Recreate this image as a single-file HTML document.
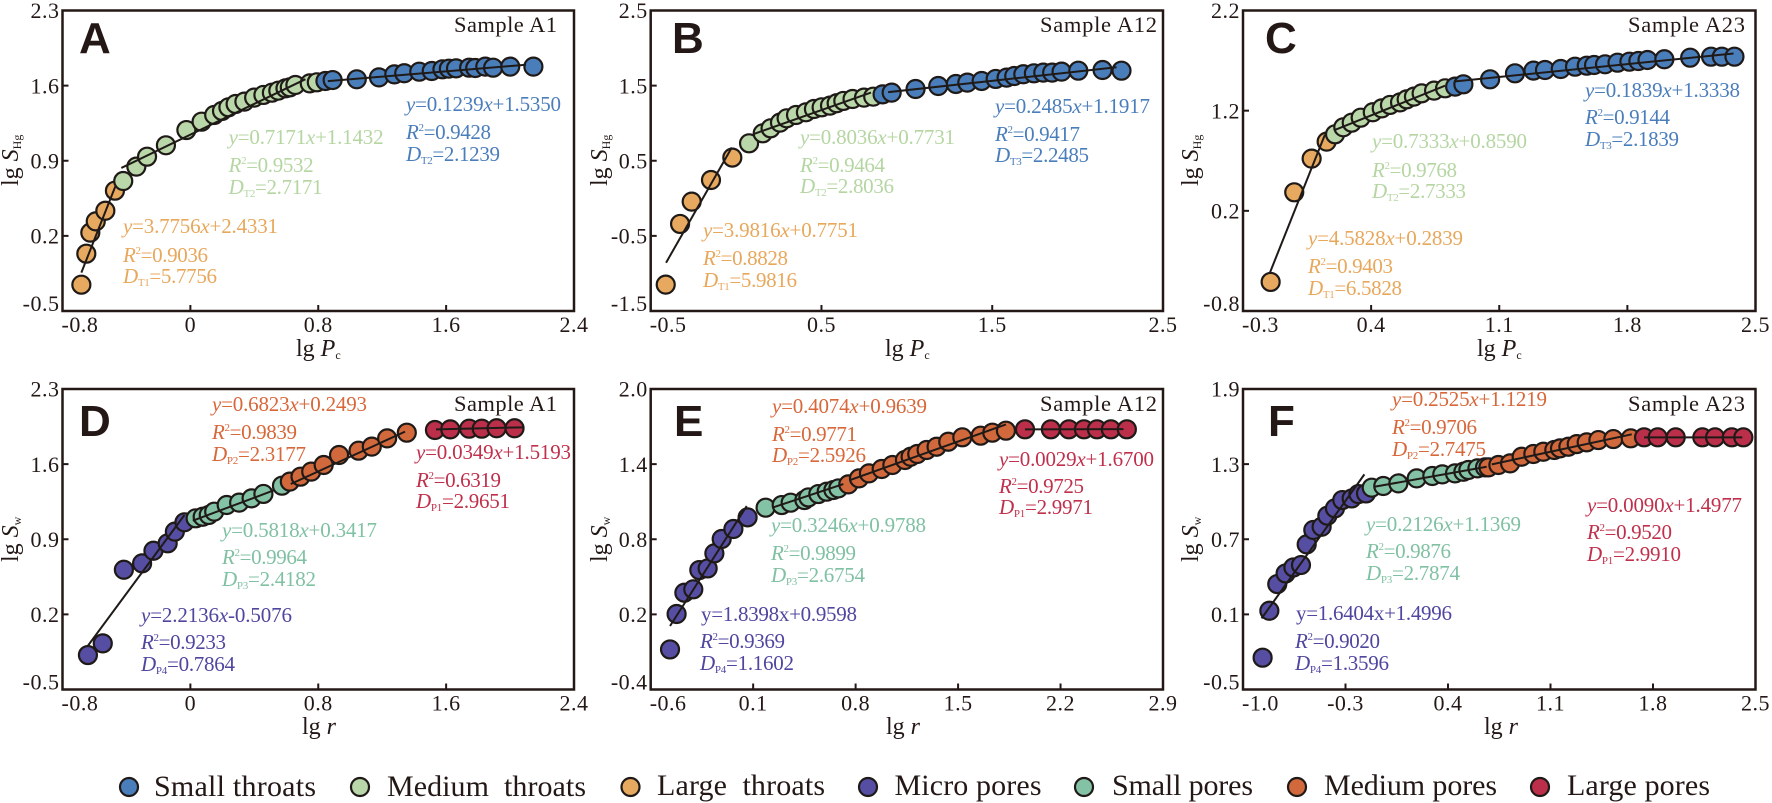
<!DOCTYPE html>
<html lang="en">
<head>
<meta charset="utf-8">
<title>Fractal dimension plots of throats and pores</title>
<style>
html,body{margin:0;padding:0;background:#fff;width:1772px;height:803px;overflow:hidden}
svg{display:block;font-family:"Liberation Serif","Times New Roman",serif}
.tick{font-size:22px;letter-spacing:.5px;fill:#231815}
.sample{font-size:22.5px;fill:#231815}
.letter{font-family:"Liberation Sans",Arial,sans-serif;font-weight:700;font-size:44px;fill:#231815}
.axis{font-size:24px;fill:#231815;white-space:pre}
.ax-sub{font-size:12px}
.ann{font-size:21px}
.i{font-style:italic}
.sm{font-size:11px}
.legend{font-size:30px;fill:#231815;white-space:pre}
.blue{fill:#4a7ebb}.green{fill:#b5d6a2}.orange{fill:#e8a85c}
.purple{fill:#4f46a0}.teal{fill:#80c1a3}.ored{fill:#d8673a}.red{fill:#c0304c}
</style>
</head>
<body>
<svg id="figure" width="1772" height="803" viewBox="0 0 1772 803" xmlns="http://www.w3.org/2000/svg">
  <g id="marks"></g>

  <!-- Panel letters and sample names -->
  <text class="letter" x="79" y="53">A</text>
  <text class="letter" x="672" y="53">B</text>
  <text class="letter" x="1265" y="53">C</text>
  <text class="letter" x="79" y="436">D</text>
  <text class="letter" x="674" y="436">E</text>
  <text class="letter" x="1268" y="436">F</text>
  <text class="sample" x="454" y="32" textLength="103">Sample A1</text>
  <text class="sample" x="1040" y="32" textLength="117">Sample A12</text>
  <text class="sample" x="1628" y="32" textLength="117">Sample A23</text>
  <text class="sample" x="454" y="411" textLength="103">Sample A1</text>
  <text class="sample" x="1040" y="411" textLength="117">Sample A12</text>
  <text class="sample" x="1628" y="411" textLength="117">Sample A23</text>

  <!-- Axis titles -->
  <text class="axis" x="296" y="356">lg <tspan class="i">P</tspan><tspan class="ax-sub" dy="3">c</tspan></text>
  <text class="axis" x="885" y="356">lg <tspan class="i">P</tspan><tspan class="ax-sub" dy="3">c</tspan></text>
  <text class="axis" x="1477" y="356">lg <tspan class="i">P</tspan><tspan class="ax-sub" dy="3">c</tspan></text>
  <text class="axis" x="302" y="734">lg <tspan class="i">r</tspan></text>
  <text class="axis" x="886" y="734">lg <tspan class="i">r</tspan></text>
  <text class="axis" x="1484" y="734">lg <tspan class="i">r</tspan></text>
  <text class="axis" transform="rotate(-90 18 186)" x="18" y="186">lg <tspan class="i">S</tspan><tspan class="ax-sub" dy="3">Hg</tspan></text>
  <text class="axis" transform="rotate(-90 607 186)" x="607" y="186">lg <tspan class="i">S</tspan><tspan class="ax-sub" dy="3">Hg</tspan></text>
  <text class="axis" transform="rotate(-90 1198 186)" x="1198" y="186">lg <tspan class="i">S</tspan><tspan class="ax-sub" dy="3">Hg</tspan></text>
  <text class="axis" transform="rotate(-90 18 562)" x="18" y="562">lg <tspan class="i">S</tspan><tspan class="ax-sub" dy="3">w</tspan></text>
  <text class="axis" transform="rotate(-90 607 562)" x="607" y="562">lg <tspan class="i">S</tspan><tspan class="ax-sub" dy="3">w</tspan></text>
  <text class="axis" transform="rotate(-90 1198 562)" x="1198" y="562">lg <tspan class="i">S</tspan><tspan class="ax-sub" dy="3">w</tspan></text>

  <!-- Panel A annotations -->
  <text class="ann blue" x="406" y="111" textLength="155"><tspan class="i">y</tspan>=0.1239<tspan class="i">x</tspan>+1.5350</text>
  <text class="ann blue" x="406" y="139" textLength="85"><tspan class="i">R</tspan><tspan class="sm" dy="-8">2</tspan><tspan dy="8">=0.9428</tspan></text>
  <text class="ann blue" x="406" y="161" textLength="94"><tspan class="i">D</tspan><tspan class="sm" dy="3">T2</tspan><tspan dy="-3">=2.1239</tspan></text>
  <text class="ann green" x="228.6" y="144" textLength="155"><tspan class="i">y</tspan>=0.7171<tspan class="i">x</tspan>+1.1432</text>
  <text class="ann green" x="228.6" y="172" textLength="85"><tspan class="i">R</tspan><tspan class="sm" dy="-8">2</tspan><tspan dy="8">=0.9532</tspan></text>
  <text class="ann green" x="228.6" y="194" textLength="94"><tspan class="i">D</tspan><tspan class="sm" dy="3">T2</tspan><tspan dy="-3">=2.7171</tspan></text>
  <text class="ann orange" x="123" y="233" textLength="155"><tspan class="i">y</tspan>=3.7756<tspan class="i">x</tspan>+2.4331</text>
  <text class="ann orange" x="123" y="262" textLength="85"><tspan class="i">R</tspan><tspan class="sm" dy="-8">2</tspan><tspan dy="8">=0.9036</tspan></text>
  <text class="ann orange" x="123" y="283" textLength="94"><tspan class="i">D</tspan><tspan class="sm" dy="3">T1</tspan><tspan dy="-3">=5.7756</tspan></text>

  <!-- Panel B annotations -->
  <text class="ann blue" x="995" y="113" textLength="155"><tspan class="i">y</tspan>=0.2485<tspan class="i">x</tspan>+1.1917</text>
  <text class="ann blue" x="995" y="141" textLength="85"><tspan class="i">R</tspan><tspan class="sm" dy="-8">2</tspan><tspan dy="8">=0.9417</tspan></text>
  <text class="ann blue" x="995" y="162" textLength="94"><tspan class="i">D</tspan><tspan class="sm" dy="3">T3</tspan><tspan dy="-3">=2.2485</tspan></text>
  <text class="ann green" x="800" y="144" textLength="155"><tspan class="i">y</tspan>=0.8036<tspan class="i">x</tspan>+0.7731</text>
  <text class="ann green" x="800" y="172" textLength="85"><tspan class="i">R</tspan><tspan class="sm" dy="-8">2</tspan><tspan dy="8">=0.9464</tspan></text>
  <text class="ann green" x="800" y="193" textLength="94"><tspan class="i">D</tspan><tspan class="sm" dy="3">T2</tspan><tspan dy="-3">=2.8036</tspan></text>
  <text class="ann orange" x="703" y="237" textLength="155"><tspan class="i">y</tspan>=3.9816<tspan class="i">x</tspan>+0.7751</text>
  <text class="ann orange" x="703" y="265" textLength="85"><tspan class="i">R</tspan><tspan class="sm" dy="-8">2</tspan><tspan dy="8">=0.8828</tspan></text>
  <text class="ann orange" x="703" y="287" textLength="94"><tspan class="i">D</tspan><tspan class="sm" dy="3">T1</tspan><tspan dy="-3">=5.9816</tspan></text>

  <!-- Panel C annotations -->
  <text class="ann blue" x="1585" y="97" textLength="155"><tspan class="i">y</tspan>=0.1839<tspan class="i">x</tspan>+1.3338</text>
  <text class="ann blue" x="1585" y="124" textLength="85"><tspan class="i">R</tspan><tspan class="sm" dy="-8">2</tspan><tspan dy="8">=0.9144</tspan></text>
  <text class="ann blue" x="1585" y="146" textLength="94"><tspan class="i">D</tspan><tspan class="sm" dy="3">T3</tspan><tspan dy="-3">=2.1839</tspan></text>
  <text class="ann green" x="1372" y="148" textLength="155"><tspan class="i">y</tspan>=0.7333<tspan class="i">x</tspan>+0.8590</text>
  <text class="ann green" x="1372" y="177" textLength="85"><tspan class="i">R</tspan><tspan class="sm" dy="-8">2</tspan><tspan dy="8">=0.9768</tspan></text>
  <text class="ann green" x="1372" y="198" textLength="94"><tspan class="i">D</tspan><tspan class="sm" dy="3">T2</tspan><tspan dy="-3">=2.7333</tspan></text>
  <text class="ann orange" x="1308" y="245" textLength="155"><tspan class="i">y</tspan>=4.5828<tspan class="i">x</tspan>+0.2839</text>
  <text class="ann orange" x="1308" y="273" textLength="85"><tspan class="i">R</tspan><tspan class="sm" dy="-8">2</tspan><tspan dy="8">=0.9403</tspan></text>
  <text class="ann orange" x="1308" y="295" textLength="94"><tspan class="i">D</tspan><tspan class="sm" dy="3">T1</tspan><tspan dy="-3">=6.5828</tspan></text>

  <!-- Panel D annotations -->
  <text class="ann ored" x="212" y="411" textLength="155"><tspan class="i">y</tspan>=0.6823<tspan class="i">x</tspan>+0.2493</text>
  <text class="ann ored" x="212" y="439" textLength="85"><tspan class="i">R</tspan><tspan class="sm" dy="-8">2</tspan><tspan dy="8">=0.9839</tspan></text>
  <text class="ann ored" x="212" y="461" textLength="94"><tspan class="i">D</tspan><tspan class="sm" dy="3">P2</tspan><tspan dy="-3">=2.3177</tspan></text>
  <text class="ann teal" x="222" y="537" textLength="155"><tspan class="i">y</tspan>=0.5818<tspan class="i">x</tspan>+0.3417</text>
  <text class="ann teal" x="222" y="564" textLength="85"><tspan class="i">R</tspan><tspan class="sm" dy="-8">2</tspan><tspan dy="8">=0.9964</tspan></text>
  <text class="ann teal" x="222" y="586" textLength="94"><tspan class="i">D</tspan><tspan class="sm" dy="3">P3</tspan><tspan dy="-3">=2.4182</tspan></text>
  <text class="ann red" x="416" y="459" textLength="155"><tspan class="i">y</tspan>=0.0349<tspan class="i">x</tspan>+1.5193</text>
  <text class="ann red" x="416" y="487" textLength="85"><tspan class="i">R</tspan><tspan class="sm" dy="-8">2</tspan><tspan dy="8">=0.6319</tspan></text>
  <text class="ann red" x="416" y="508" textLength="94"><tspan class="i">D</tspan><tspan class="sm" dy="3">P1</tspan><tspan dy="-3">=2.9651</tspan></text>
  <text class="ann purple" x="141" y="622" textLength="151"><tspan class="i">y</tspan>=2.2136<tspan class="i">x</tspan>-0.5076</text>
  <text class="ann purple" x="141" y="649" textLength="85"><tspan class="i">R</tspan><tspan class="sm" dy="-8">2</tspan><tspan dy="8">=0.9233</tspan></text>
  <text class="ann purple" x="141" y="671" textLength="94"><tspan class="i">D</tspan><tspan class="sm" dy="3">P4</tspan><tspan dy="-3">=0.7864</tspan></text>

  <!-- Panel E annotations -->
  <text class="ann ored" x="772" y="413" textLength="155"><tspan class="i">y</tspan>=0.4074<tspan class="i">x</tspan>+0.9639</text>
  <text class="ann ored" x="772" y="441" textLength="85"><tspan class="i">R</tspan><tspan class="sm" dy="-8">2</tspan><tspan dy="8">=0.9771</tspan></text>
  <text class="ann ored" x="772" y="462" textLength="94"><tspan class="i">D</tspan><tspan class="sm" dy="3">P2</tspan><tspan dy="-3">=2.5926</tspan></text>
  <text class="ann teal" x="771" y="532" textLength="155"><tspan class="i">y</tspan>=0.3246<tspan class="i">x</tspan>+0.9788</text>
  <text class="ann teal" x="771" y="560" textLength="85"><tspan class="i">R</tspan><tspan class="sm" dy="-8">2</tspan><tspan dy="8">=0.9899</tspan></text>
  <text class="ann teal" x="771" y="582" textLength="94"><tspan class="i">D</tspan><tspan class="sm" dy="3">P3</tspan><tspan dy="-3">=2.6754</tspan></text>
  <text class="ann red" x="999" y="466" textLength="155"><tspan class="i">y</tspan>=0.0029<tspan class="i">x</tspan>+1.6700</text>
  <text class="ann red" x="999" y="493" textLength="85"><tspan class="i">R</tspan><tspan class="sm" dy="-8">2</tspan><tspan dy="8">=0.9725</tspan></text>
  <text class="ann red" x="999" y="514" textLength="94"><tspan class="i">D</tspan><tspan class="sm" dy="3">P1</tspan><tspan dy="-3">=2.9971</tspan></text>
  <text class="ann purple" x="701" y="621" textLength="156">y=1.8398x+0.9598</text>
  <text class="ann purple" x="700" y="648" textLength="85"><tspan class="i">R</tspan><tspan class="sm" dy="-8">2</tspan><tspan dy="8">=0.9369</tspan></text>
  <text class="ann purple" x="700" y="670" textLength="94"><tspan class="i">D</tspan><tspan class="sm" dy="3">P4</tspan><tspan dy="-3">=1.1602</tspan></text>

  <!-- Panel F annotations -->
  <text class="ann ored" x="1392" y="406" textLength="155"><tspan class="i">y</tspan>=0.2525<tspan class="i">x</tspan>+1.1219</text>
  <text class="ann ored" x="1392" y="434" textLength="85"><tspan class="i">R</tspan><tspan class="sm" dy="-8">2</tspan><tspan dy="8">=0.9706</tspan></text>
  <text class="ann ored" x="1392" y="456" textLength="94"><tspan class="i">D</tspan><tspan class="sm" dy="3">P2</tspan><tspan dy="-3">=2.7475</tspan></text>
  <text class="ann teal" x="1366" y="531" textLength="155"><tspan class="i">y</tspan>=0.2126<tspan class="i">x</tspan>+1.1369</text>
  <text class="ann teal" x="1366" y="558" textLength="85"><tspan class="i">R</tspan><tspan class="sm" dy="-8">2</tspan><tspan dy="8">=0.9876</tspan></text>
  <text class="ann teal" x="1366" y="580" textLength="94"><tspan class="i">D</tspan><tspan class="sm" dy="3">P3</tspan><tspan dy="-3">=2.7874</tspan></text>
  <text class="ann red" x="1587" y="512" textLength="155"><tspan class="i">y</tspan>=0.0090<tspan class="i">x</tspan>+1.4977</text>
  <text class="ann red" x="1587" y="539" textLength="85"><tspan class="i">R</tspan><tspan class="sm" dy="-8">2</tspan><tspan dy="8">=0.9520</tspan></text>
  <text class="ann red" x="1587" y="561" textLength="94"><tspan class="i">D</tspan><tspan class="sm" dy="3">P1</tspan><tspan dy="-3">=2.9910</tspan></text>
  <text class="ann purple" x="1296" y="620" textLength="156">y=1.6404x+1.4996</text>
  <text class="ann purple" x="1295" y="648" textLength="85"><tspan class="i">R</tspan><tspan class="sm" dy="-8">2</tspan><tspan dy="8">=0.9020</tspan></text>
  <text class="ann purple" x="1295" y="670" textLength="94"><tspan class="i">D</tspan><tspan class="sm" dy="3">P4</tspan><tspan dy="-3">=1.3596</tspan></text>

  <!-- Legend -->
  <g stroke-width="0">
    <g>
      <circle cx="129" cy="787" r="9" fill="#4a7ebb" stroke="#1f1a17" stroke-width="2.2"/>
      <text class="legend" x="154" y="796" textLength="162">Small throats</text>
    </g>
    <g>
      <circle cx="360" cy="787" r="9" fill="#b9d7a8" stroke="#1f1a17" stroke-width="2.2"/>
      <text class="legend" x="387" y="796" textLength="199">Medium  throats</text>
    </g>
    <g>
      <circle cx="630.5" cy="787" r="9" fill="#e6a95f" stroke="#1f1a17" stroke-width="2.2"/>
      <text class="legend" x="657" y="795" textLength="168">Large  throats</text>
    </g>
    <g>
      <circle cx="868" cy="787" r="9" fill="#564ea2" stroke="#1f1a17" stroke-width="2.2"/>
      <text class="legend" x="894.5" y="795" textLength="147">Micro pores</text>
    </g>
    <g>
      <circle cx="1084" cy="787" r="9" fill="#84c2a5" stroke="#1f1a17" stroke-width="2.2"/>
      <text class="legend" x="1112" y="795" textLength="141">Small pores</text>
    </g>
    <g>
      <circle cx="1297" cy="787" r="9" fill="#d2693c" stroke="#1f1a17" stroke-width="2.2"/>
      <text class="legend" x="1324" y="795" textLength="173">Medium pores</text>
    </g>
    <g>
      <circle cx="1540" cy="787" r="9" fill="#bc2f4a" stroke="#1f1a17" stroke-width="2.2"/>
      <text class="legend" x="1567" y="795" textLength="143">Large pores</text>
    </g>
  </g>
</svg>

<script>
/* ---------- Tick labels ---------- */
const aXTicks = ['-0.8','0','0.8','1.6','2.4'];
const aYTicks = ['-0.5','0.2','0.9','1.6','2.3'];
const bXTicks = ['-0.5','0.5','1.5','2.5'];
const bYTicks = ['-1.5','-0.5','0.5','1.5','2.5'];
const cXTicks = ['-0.3','0.4','1.1','1.8','2.5'];
const cYTicks = ['-0.8','0.2','1.2','2.2'];
const dXTicks = ['-0.8','0','0.8','1.6','2.4'];
const dYTicks = ['-0.5','0.2','0.9','1.6','2.3'];
const eXTicks = ['-0.6','0.1','0.8','1.5','2.2','2.9'];
const eYTicks = ['-0.4','0.2','0.8','1.4','2.0'];
const fXTicks = ['-1.0','-0.3','0.4','1.1','1.8','2.5'];
const fYTicks = ['-0.5','0.1','0.7','1.3','1.9'];

/* ---------- Panel A: lg Pc vs lg SHg ---------- */
const aLargeThroatX = [-0.682,-0.651,-0.626,-0.592,-0.532,-0.472];
const aLargeThroatY = [-0.255,0.034,0.23,0.335,0.434,0.621];
const aLargeThroatFit = [-0.682,-0.142,-0.47,0.659];
const aMediumThroatX = [-0.42,-0.338,-0.271,-0.153,-0.025,0.07,0.149,0.198,0.238,0.283,0.338,0.399,0.457,0.51,0.55,0.595,0.622,0.657,0.747,0.791];
const aMediumThroatY = [0.711,0.845,0.938,1.044,1.186,1.264,1.326,1.364,1.398,1.429,1.451,1.488,1.513,1.534,1.553,1.575,1.584,1.606,1.621,1.631];
const aMediumThroatFit = [-0.432,0.833,0.72,1.66];
const aSmallThroatX = [0.845,0.89,1.041,1.18,1.276,1.338,1.432,1.51,1.577,1.617,1.662,1.744,1.782,1.845,1.894,2.001,2.146];
const aSmallThroatY = [1.643,1.652,1.659,1.677,1.705,1.715,1.73,1.736,1.752,1.758,1.761,1.767,1.764,1.777,1.767,1.777,1.777];
const aSmallThroatFit = [0.86,1.642,2.1,1.795];

/* ---------- Panel B ---------- */
const bLargeThroatX = [-0.412,-0.328,-0.26,-0.147,-0.022];
const bLargeThroatY = [-1.149,-0.341,-0.044,0.244,0.542];
const bLargeThroatFit = [-0.41,-0.857,-0.025,0.676];
const bMediumThroatX = [0.076,0.156,0.202,0.257,0.296,0.351,0.409,0.456,0.501,0.55,0.589,0.628,0.682,0.749,0.803];
const bMediumThroatY = [0.732,0.865,0.932,1.007,1.065,1.109,1.145,1.189,1.211,1.234,1.265,1.296,1.322,1.34,1.353];
const bMediumThroatFit = [0.101,0.854,0.79,1.408];
const bSmallThroatX = [0.858,0.911,1.051,1.184,1.287,1.354,1.438,1.52,1.584,1.629,1.682,1.744,1.799,1.851,1.906,2.004,2.146,2.257];
const bSmallThroatY = [1.384,1.407,1.455,1.495,1.522,1.54,1.562,1.589,1.606,1.628,1.651,1.664,1.673,1.673,1.686,1.699,1.708,1.699];
const bSmallThroatFit = [0.89,1.413,2.228,1.745];

/* ---------- Panel C ---------- */
const cLargeThroatX = [-0.149,-0.02,0.075,0.157];
const cLargeThroatY = [-0.51,0.385,0.721,0.891];
const cLargeThroatFit = [-0.152,-0.413,0.148,0.962];
const cMediumThroatX = [0.203,0.248,0.294,0.343,0.409,0.458,0.503,0.558,0.594,0.634,0.676,0.744,0.804];
const cMediumThroatY = [0.964,1.034,1.08,1.13,1.184,1.223,1.257,1.283,1.313,1.34,1.373,1.4,1.423];
const cMediumThroatFit = [0.2,1.006,0.804,1.449];
const cSmallThroatX = [0.859,0.904,1.05,1.186,1.287,1.35,1.436,1.514,1.578,1.618,1.678,1.746,1.811,1.86,1.91,2.002,2.143,2.257,2.316,2.385];
const cSmallThroatY = [1.44,1.463,1.513,1.573,1.6,1.606,1.616,1.639,1.649,1.656,1.663,1.679,1.689,1.696,1.706,1.713,1.729,1.739,1.739,1.739];
const cSmallThroatFit = [0.86,1.492,2.38,1.771];

/* ---------- Panel D: lg r vs lg Sw ---------- */
const dMicroPoreX = [-0.641,-0.548,-0.416,-0.302,-0.231,-0.142,-0.097,-0.037];
const dMicroPoreY = [-0.179,-0.07,0.616,0.675,0.793,0.862,0.971,1.058];
const dMicroPoreFit = [-0.64,-0.09,-0.037,1.126];
const dSmallPoreX = [0.033,0.077,0.115,0.149,0.227,0.305,0.383,0.457,0.573];
const dSmallPoreY = [1.095,1.11,1.126,1.157,1.219,1.241,1.281,1.322,1.399];
const dSmallPoreFit = [0.015,1.073,0.528,1.359];
const dMediumPoreX = [0.622,0.689,0.756,0.834,0.93,1.052,1.135,1.231,1.354];
const dMediumPoreY = [1.437,1.483,1.53,1.592,1.685,1.725,1.763,1.84,1.893];
const dMediumPoreFit = [0.628,1.415,1.343,1.903];
const dLargePoreX = [1.53,1.626,1.744,1.823,1.916,2.028];
const dLargePoreY = [1.918,1.924,1.93,1.93,1.934,1.934];
const dLargePoreFit = [1.537,1.924,2.086,1.943];

/* ---------- Panel E ---------- */
const eMicroPoreX = [-0.468,-0.423,-0.37,-0.309,-0.268,-0.211,-0.165,-0.115,-0.035,0.062];
const eMicroPoreY = [-0.08,0.203,0.373,0.4,0.554,0.567,0.687,0.802,0.882,0.975];
const eMicroPoreFit = [-0.468,0.107,0.056,1.065];
const eSmallPoreX = [0.185,0.295,0.356,0.45,0.477,0.545,0.602,0.648,0.682];
const eSmallPoreY = [1.052,1.073,1.092,1.113,1.134,1.161,1.18,1.193,1.206];
const eSmallPoreFit = [0.238,1.055,0.716,1.241];
const eMediumPoreX = [0.75,0.823,0.891,0.978,1.051,1.137,1.176,1.221,1.285,1.353,1.433,1.529,1.654,1.734,1.827];
const eMediumPoreY = [1.238,1.286,1.326,1.361,1.393,1.433,1.459,1.481,1.513,1.539,1.579,1.614,1.627,1.651,1.667];
const eMediumPoreFit = [0.762,1.273,1.827,1.717];
const eLargePoreX = [1.957,2.134,2.257,2.36,2.449,2.544,2.653];
const eLargePoreY = [1.678,1.678,1.678,1.678,1.678,1.678,1.678];
const eLargePoreFit = [1.957,1.678,2.63,1.68];

/* ---------- Panel F ---------- */
const fMicroPoreX = [-0.866,-0.82,-0.766,-0.709,-0.656,-0.604,-0.565,-0.52,-0.463,-0.424,-0.372,-0.322,-0.258,-0.212,-0.16];
const fMicroPoreY = [-0.246,0.129,0.342,0.427,0.475,0.494,0.659,0.774,0.8,0.888,0.947,1.013,1.026,1.061,1.066];
const fMicroPoreFit = [-0.873,0.068,-0.171,1.218];
const fSmallPoreX = [-0.121,-0.042,0.061,0.186,0.293,0.361,0.448,0.505,0.539,0.601,0.653];
const fSmallPoreY = [1.112,1.125,1.146,1.186,1.205,1.218,1.226,1.239,1.253,1.266,1.274];
const fSmallPoreFit = [-0.098,1.12,0.664,1.279];
const fMediumPoreX = [0.676,0.744,0.824,0.903,0.983,1.051,1.126,1.165,1.222,1.279,1.347,1.427,1.529,1.648];
const fMediumPoreY = [1.274,1.293,1.306,1.359,1.381,1.399,1.413,1.426,1.439,1.46,1.474,1.492,1.5,1.506];
const fMediumPoreFit = [0.699,1.298,1.655,1.538];
const fLargePoreX = [1.739,1.832,1.955,2.137,2.224,2.338,2.417];
const fLargePoreY = [1.514,1.514,1.514,1.514,1.514,1.514,1.514];
const fLargePoreFit = [1.739,1.514,2.41,1.514];

/* ---------- Drawing ---------- */
const SVG_NS = 'http://www.w3.org/2000/svg';
const INK = '#231815';
const marksRoot = document.getElementById('marks');

function makeEl(tag, attrs, parent) {
  const el = document.createElementNS(SVG_NS, tag);
  for (const key in attrs) el.setAttribute(key, attrs[key]);
  parent.appendChild(el);
  return el;
}

function drawPanel(id, box, xTicks, yTicks, series) {
  const xVals = xTicks.map(parseFloat);
  const yVals = yTicks.map(parseFloat);
  const x0 = xVals[0], x1 = xVals[xVals.length - 1];
  const y0 = yVals[0], y1 = yVals[yVals.length - 1];
  const xScale = v => box.left + (v - x0) / (x1 - x0) * (box.right - box.left);
  const yScale = v => box.bottom - (v - y0) / (y1 - y0) * (box.bottom - box.top);

  const group = makeEl('g', {}, marksRoot);
  
  

  const frame = makeEl('rect', {
    x: box.left, y: box.top, width: box.right - box.left, height: box.bottom - box.top,
    fill: 'none', stroke: INK, 'stroke-width': 2.5
  }, group);
  
  

  xVals.forEach((v, i) => {
    const px = xScale(v);
    if (i > 0 && i < xVals.length - 1) {
      const tick = makeEl('line', {
        x1: px, x2: px, y1: box.bottom, y2: box.bottom - 6, stroke: INK, 'stroke-width': 2
      }, group);
      
      
    }
    const label = makeEl('text', {
      class: 'tick',
      x: i === 0 ? box.left - 1 : px,
      y: box.bottom + 21,
      'text-anchor': i === 0 ? 'start' : 'middle'
    }, group);
    label.textContent = xTicks[i];
    
    
  });

  yVals.forEach((v, i) => {
    const py = yScale(v);
    const last = yVals.length - 1;
    if (i > 0 && i < last) {
      const tick = makeEl('line', {
        x1: box.left, x2: box.left + 6, y1: py, y2: py, stroke: INK, 'stroke-width': 2
      }, group);
      
      
    }
    const label = makeEl('text', {
      class: 'tick',
      x: box.left - 3,
      y: i === 0 ? box.bottom : (i === last ? box.top + 7.5 : py + 7.7),
      'text-anchor': 'end'
    }, group);
    label.textContent = yTicks[i];
    
    
  });

  series.forEach(s => {
    s.x.forEach((v, i) => {
      const dot = makeEl('circle', {
        cx: xScale(v), cy: yScale(s.y[i]), r: 9,
        fill: s.color, stroke: '#1f1a17', 'stroke-width': 2.2
      }, group);
      
      
    });
  });

  series.forEach(s => {
    const fit = makeEl('line', {
      x1: xScale(s.fit[0]), y1: yScale(s.fit[1]),
      x2: xScale(s.fit[2]), y2: yScale(s.fit[3]),
      stroke: '#1f1a17', 'stroke-width': 2
    }, group);
    
    
  });
}

const BLUE = '#4a7ebb', GREEN = '#b9d7a8', ORANGE = '#e6a95f';
const PURPLE = '#564ea2', TEAL = '#84c2a5', ORED = '#d2693c', RED = '#bc2f4a';

drawPanel('a', {left:62.5, right:574, top:10.5, bottom:311}, aXTicks, aYTicks, [
  {name:'large-throats', color:ORANGE, x:aLargeThroatX, y:aLargeThroatY, fit:aLargeThroatFit},
  {name:'medium-throats', color:GREEN, x:aMediumThroatX, y:aMediumThroatY, fit:aMediumThroatFit},
  {name:'small-throats', color:BLUE, x:aSmallThroatX, y:aSmallThroatY, fit:aSmallThroatFit}
]);
drawPanel('b', {left:650.7, right:1163, top:10.5, bottom:311}, bXTicks, bYTicks, [
  {name:'large-throats', color:ORANGE, x:bLargeThroatX, y:bLargeThroatY, fit:bLargeThroatFit},
  {name:'medium-throats', color:GREEN, x:bMediumThroatX, y:bMediumThroatY, fit:bMediumThroatFit},
  {name:'small-throats', color:BLUE, x:bSmallThroatX, y:bSmallThroatY, fit:bSmallThroatFit}
]);
drawPanel('c', {left:1243, right:1755.5, top:10.5, bottom:311}, cXTicks, cYTicks, [
  {name:'large-throats', color:ORANGE, x:cLargeThroatX, y:cLargeThroatY, fit:cLargeThroatFit},
  {name:'medium-throats', color:GREEN, x:cMediumThroatX, y:cMediumThroatY, fit:cMediumThroatFit},
  {name:'small-throats', color:BLUE, x:cSmallThroatX, y:cSmallThroatY, fit:cSmallThroatFit}
]);
drawPanel('d', {left:62.5, right:574, top:389, bottom:689.5}, dXTicks, dYTicks, [
  {name:'micro-pores', color:PURPLE, x:dMicroPoreX, y:dMicroPoreY, fit:dMicroPoreFit},
  {name:'small-pores', color:TEAL, x:dSmallPoreX, y:dSmallPoreY, fit:dSmallPoreFit},
  {name:'medium-pores', color:ORED, x:dMediumPoreX, y:dMediumPoreY, fit:dMediumPoreFit},
  {name:'large-pores', color:RED, x:dLargePoreX, y:dLargePoreY, fit:dLargePoreFit}
]);
drawPanel('e', {left:650.7, right:1163, top:389, bottom:689.5}, eXTicks, eYTicks, [
  {name:'micro-pores', color:PURPLE, x:eMicroPoreX, y:eMicroPoreY, fit:eMicroPoreFit},
  {name:'small-pores', color:TEAL, x:eSmallPoreX, y:eSmallPoreY, fit:eSmallPoreFit},
  {name:'medium-pores', color:ORED, x:eMediumPoreX, y:eMediumPoreY, fit:eMediumPoreFit},
  {name:'large-pores', color:RED, x:eLargePoreX, y:eLargePoreY, fit:eLargePoreFit}
]);
drawPanel('f', {left:1243, right:1755.5, top:389, bottom:689.5}, fXTicks, fYTicks, [
  {name:'micro-pores', color:PURPLE, x:fMicroPoreX, y:fMicroPoreY, fit:fMicroPoreFit},
  {name:'small-pores', color:TEAL, x:fSmallPoreX, y:fSmallPoreY, fit:fSmallPoreFit},
  {name:'medium-pores', color:ORED, x:fMediumPoreX, y:fMediumPoreY, fit:fMediumPoreFit},
  {name:'large-pores', color:RED, x:fLargePoreX, y:fLargePoreY, fit:fLargePoreFit}
]);
</script>
</body>
</html>
